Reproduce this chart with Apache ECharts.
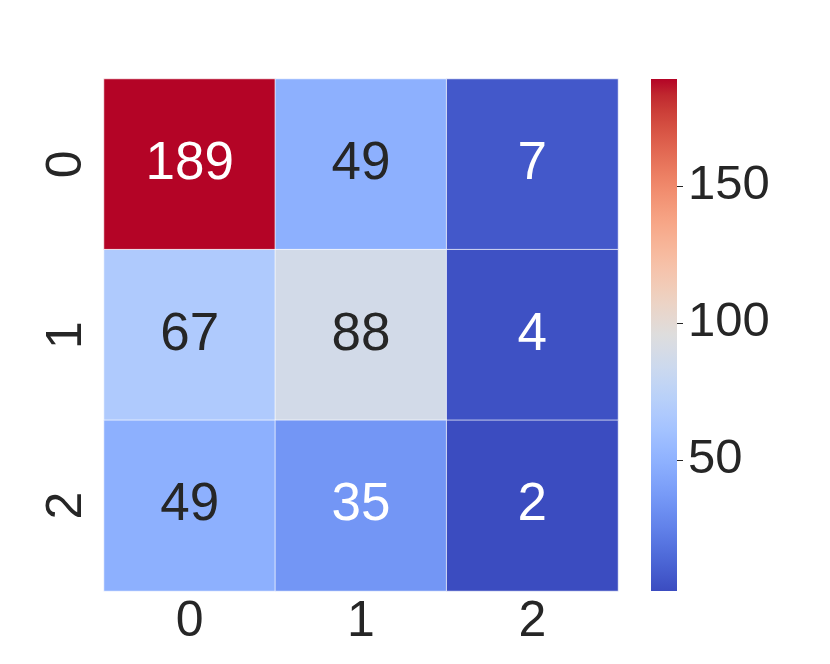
<!DOCTYPE html>
<html>
<head>
<meta charset="utf-8">
<script src="https://cdn.jsdelivr.net/npm/echarts@6/dist/echarts.min.js"></script>
<style>html,body{margin:0;padding:0;background:#fff;}#c{width:830px;height:664px;}</style>
</head>
<body>
<div id="c"></div>
<script>
// ---- data ----
var colLabels = ['0', '1', '2'];
var rowLabels = ['0', '1', '2'];
var row0Values = [189, 49, 7];
var row1Values = [67, 88, 4];
var row2Values = [49, 35, 2];
var colorbarTicks = [50, 100, 150];

// coolwarm colormap stops
var coolwarm = [
  [59,76,192],[68,90,204],[77,104,215],[87,117,225],[98,130,234],[108,142,241],
  [119,154,247],[130,165,251],[141,176,254],[152,185,255],[163,194,255],[174,201,253],
  [184,208,249],[194,213,244],[204,217,238],[213,219,230],[221,221,221],[229,216,209],
  [236,211,197],[241,204,184],[245,196,173],[247,187,160],[247,177,148],[247,166,135],
  [244,154,123],[241,141,111],[236,127,99],[229,112,88],[222,96,77],[213,80,66],
  [203,62,56],[192,40,47],[180,4,38]
];
function rgb(c){ return 'rgb(' + c[0] + ',' + c[1] + ',' + c[2] + ')'; }
var cmapColors = coolwarm.map(rgb);

var rows = [row0Values, row1Values, row2Values];
var allVals = [].concat(row0Values, row1Values, row2Values);
var vmin = Math.min.apply(null, allVals);
var vmax = Math.max.apply(null, allVals);

function cmap(v){
  var t = (v - vmin) / (vmax - vmin);
  t = Math.max(0, Math.min(1, t));
  var p = t * (coolwarm.length - 1);
  var i = Math.floor(p), f = p - i;
  if (i >= coolwarm.length - 1) return coolwarm[coolwarm.length - 1];
  var a = coolwarm[i], b = coolwarm[i + 1];
  return [a[0] + (b[0]-a[0])*f, a[1] + (b[1]-a[1])*f, a[2] + (b[2]-a[2])*f];
}
function lum(c){
  var l = c.map(function(x){ x = x/255; return x <= 0.03928 ? x/12.92 : Math.pow((x+0.055)/1.055, 2.4); });
  return 0.2126*l[0] + 0.7152*l[1] + 0.0722*l[2];
}

var heatData = [];
rows.forEach(function(r, ri){
  r.forEach(function(v, ci){
    heatData.push({
      value: [ci, ri, v],
      label: { color: lum(cmap(v)) > 0.408 ? '#262626' : '#ffffff' }
    });
  });
});

var FONT = "'Liberation Sans', Arial, sans-serif";
var chart = echarts.init(document.getElementById('c'), null, {renderer: 'canvas'});

// top of the bar = vmax (red), bottom = vmin (blue)
var n = cmapColors.length;
var gradStops = [];
for (var i = 0; i < n; i++) {
  gradStops.push({ offset: i / (n - 1), color: cmapColors[n - 1 - i] });
}

chart.setOption({
  backgroundColor: '#ffffff',
  animation: false,
  grid: [
    { left: 104, top: 79, width: 514, height: 512 },
    { left: 651, top: 79, width: 26, height: 512 }
  ],
  xAxis: [
    {
      gridIndex: 0, type: 'category', data: colLabels, position: 'bottom',
      axisLine: {show: false}, axisTick: {show: false}, splitLine: {show: false},
      axisLabel: { fontSize: 50, color: '#262626', fontFamily: FONT, margin: 6 }
    },
    {
      gridIndex: 1, type: 'value', min: 0, max: 1, show: false
    }
  ],
  yAxis: [
    {
      gridIndex: 0, type: 'category', data: rowLabels, inverse: true,
      axisLine: {show: false}, axisTick: {show: false}, splitLine: {show: false},
      axisLabel: { fontSize: 50, color: '#262626', fontFamily: FONT, rotate: 90, margin: 12 }
    },
    {
      gridIndex: 1, type: 'value', min: vmin, max: vmax, position: 'right',
      axisLine: {show: false}, splitLine: {show: false}, axisTick: {show: false},
      axisLabel: { fontSize: 49, color: '#262626', fontFamily: FONT, margin: 11, customValues: colorbarTicks }
    }
  ],
  visualMap: {
    type: 'continuous', show: false, min: vmin, max: vmax, dimension: 2, seriesIndex: 0,
    inRange: { color: cmapColors }
  },
  series: [
    {
      type: 'heatmap', xAxisIndex: 0, yAxisIndex: 0, data: heatData,
      itemStyle: { borderColor: '#ffffff', borderWidth: 0.7 },
      label: { show: true, fontSize: 53, fontFamily: FONT },
      emphasis: { disabled: true }
    },
    {
      type: 'custom', xAxisIndex: 1, yAxisIndex: 1, data: [[0, vmin, vmax]],
      renderItem: function(params, api){
        var p1 = api.coord([0, api.value(2)]);
        var p2 = api.coord([1, api.value(1)]);
        return {
          type: 'rect',
          shape: { x: p1[0], y: p1[1], width: p2[0] - p1[0], height: p2[1] - p1[1] },
          style: { fill: new echarts.graphic.LinearGradient(0, 0, 0, 1, gradStops) }
        };
      },
      silent: true
    },
    {
      // colorbar tick marks
      type: 'custom', xAxisIndex: 1, yAxisIndex: 1, clip: false,
      data: colorbarTicks.map(function(t){ return [1, t]; }),
      renderItem: function(params, api){
        var p = api.coord([1, api.value(1)]);
        var y = Math.round(p[1]) + 0.5;
        return {
          type: 'line',
          shape: { x1: p[0], y1: y, x2: p[0] + 6, y2: y },
          style: { stroke: '#262626', lineWidth: 1 }
        };
      },
      silent: true
    }
  ]
});
</script>
</body>
</html>
